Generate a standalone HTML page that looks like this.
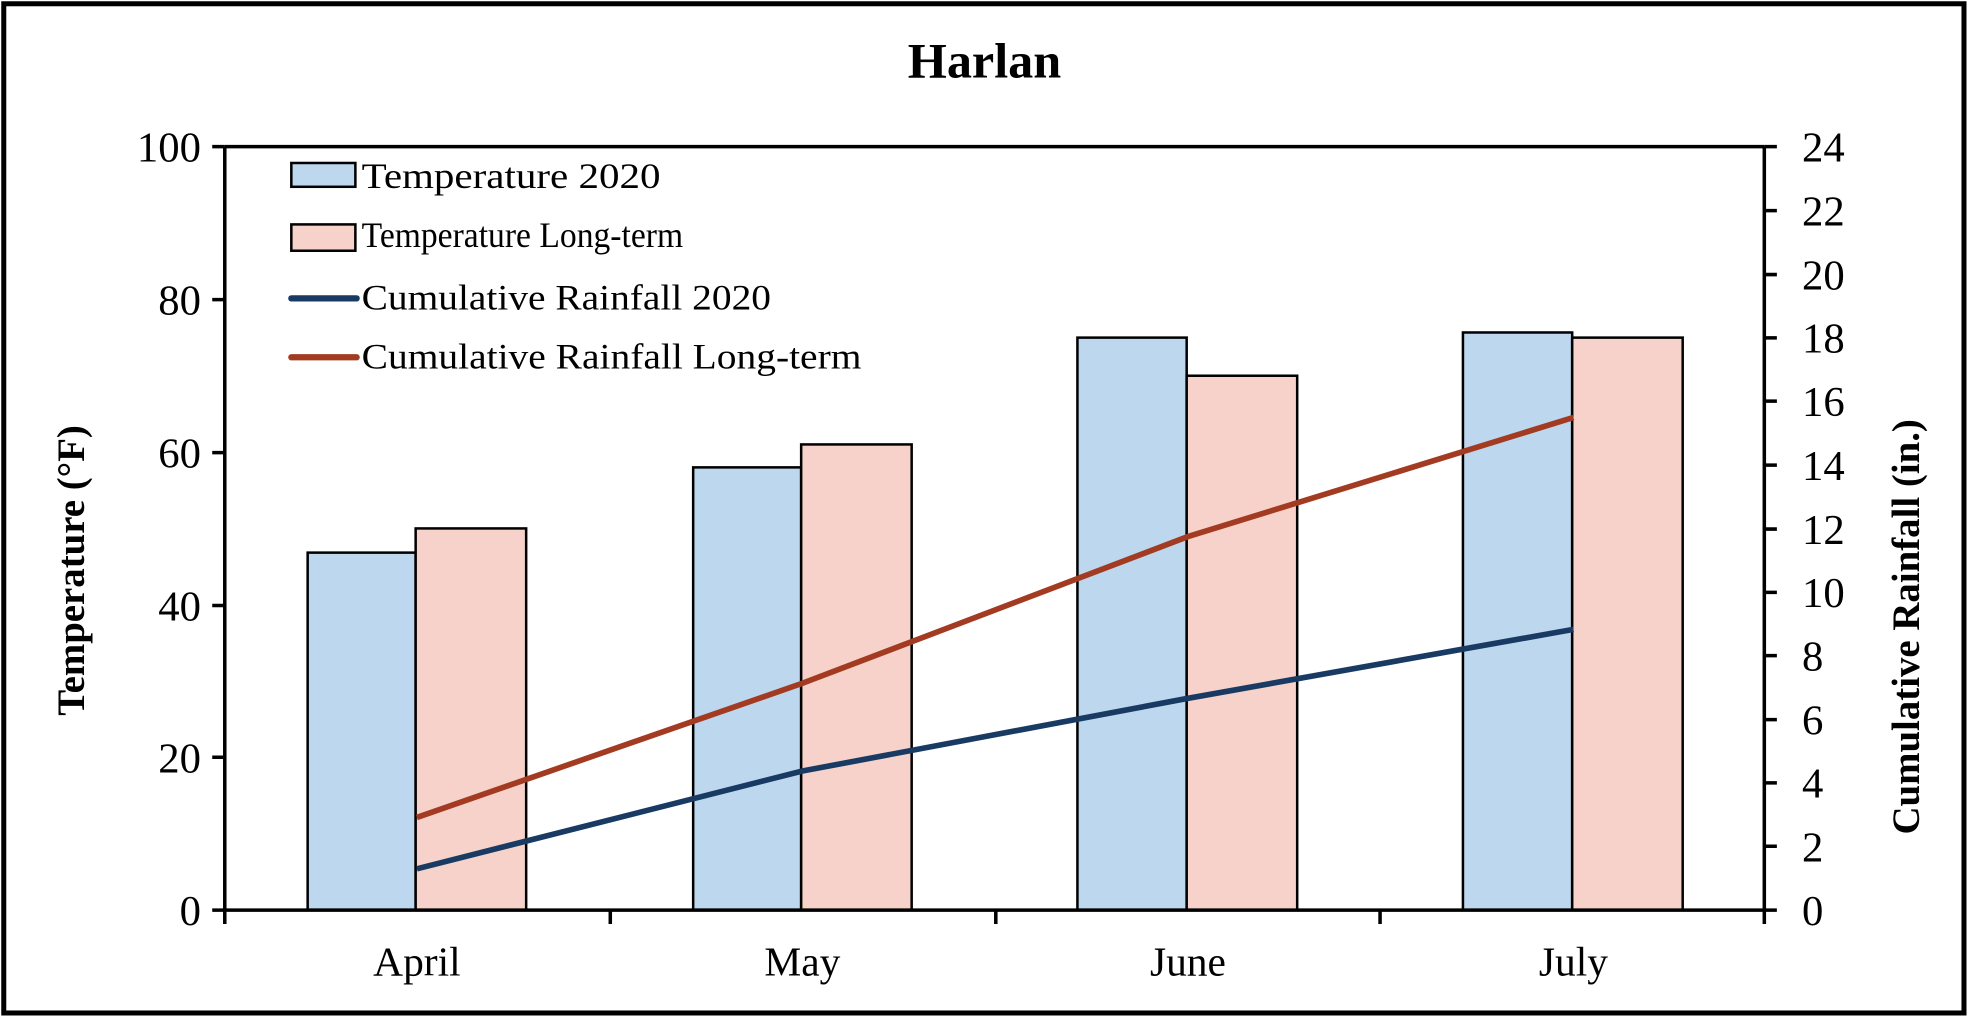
<!DOCTYPE html>
<html><head><style>html,body{margin:0;padding:0;background:#fff}svg{display:block}</style></head>
<body>
<svg width="1969" height="1018" viewBox="0 0 1568 812" preserveAspectRatio="none" xmlns="http://www.w3.org/2000/svg" font-family="Liberation Serif, serif">
<rect x="0" y="0" width="1568" height="812" fill="#fff"/>
<rect x="3" y="3" width="1561" height="805" fill="none" stroke="#000" stroke-width="4"/>
<text x="784" y="62" text-anchor="middle" font-size="40" font-weight="bold">Harlan</text>
<g stroke="#000" stroke-width="2">
<rect x="245" y="440.8" width="86" height="285.2" fill="#bdd7ee"/>
<rect x="331" y="421.5" width="88" height="304.5" fill="#f6d2ca"/>
<rect x="552" y="372.8" width="86" height="353.2" fill="#bdd7ee"/>
<rect x="638" y="354.5" width="88" height="371.5" fill="#f6d2ca"/>
<rect x="858" y="269.3" width="87" height="456.7" fill="#bdd7ee"/>
<rect x="945" y="299.7" width="88" height="426.3" fill="#f6d2ca"/>
<rect x="1165" y="265.2" width="87" height="460.8" fill="#bdd7ee"/>
<rect x="1252" y="269.3" width="88" height="456.7" fill="#f6d2ca"/>
</g>
<polyline points="332,693 639,615 946,557 1253,502" fill="none" stroke="#183a63" stroke-width="4.5"/>
<polyline points="332,652 639,545 946,428 1253,333" fill="none" stroke="#a23b21" stroke-width="4.5"/>
<g stroke="#000" stroke-width="2.8" fill="none">
<path d="M179,117 H1405 M179,117 V726 H1405 V117"/>
<path d="M169,117H179M169,239H179M169,361H179M169,483H179M169,604H179M169,726H179"/>
<path d="M1405,726h10M1405,675h10M1405,624.5h10M1405,574h10M1405,523h10M1405,472.5h10M1405,422h10M1405,371h10M1405,320h10M1405,269.5h10M1405,219h10M1405,168h10M1405,117h10"/>
<path d="M179,726v11M486,726v11M793,726v11M1099,726v11M1405,726v11"/>
</g>
<g font-size="34" text-anchor="end">
<text x="160" y="129">100</text><text x="160" y="251">80</text><text x="160" y="373">60</text><text x="160" y="495">40</text><text x="160" y="616">20</text><text x="160" y="738">0</text>
</g>
<g font-size="34" text-anchor="start">
<text x="1435" y="738">0</text><text x="1435" y="687">2</text><text x="1435" y="636">4</text><text x="1435" y="586">6</text><text x="1435" y="535">8</text><text x="1435" y="484">10</text><text x="1435" y="434">12</text><text x="1435" y="383">14</text><text x="1435" y="332">16</text><text x="1435" y="281">18</text><text x="1435" y="231">20</text><text x="1435" y="180">22</text><text x="1435" y="129">24</text>
</g>
<g font-size="33" text-anchor="middle">
<text x="332" y="778">April</text><text x="639" y="778">May</text><text x="946" y="778">June</text><text x="1253" y="778">July</text>
</g>
<text transform="translate(67,455) rotate(-90)" text-anchor="middle" font-size="31" font-weight="bold">Temperature (°F)</text>
<text transform="translate(1528,500) rotate(-90)" text-anchor="middle" font-size="31" font-weight="bold">Cumulative Rainfall (in.)</text>
<rect x="232" y="130" width="51" height="19" fill="#bdd7ee" stroke="#000" stroke-width="2"/>
<rect x="232" y="179" width="51" height="21" fill="#f6d2ca" stroke="#000" stroke-width="2"/>
<line x1="232" y1="238" x2="284" y2="238" stroke="#183a63" stroke-width="5" stroke-linecap="round"/>
<line x1="232" y1="285" x2="284" y2="285" stroke="#a23b21" stroke-width="5" stroke-linecap="round"/>
<g font-size="29">
<text x="288" y="150" textLength="238" lengthAdjust="spacingAndGlyphs">Temperature 2020</text>
<text x="288" y="197" textLength="256" lengthAdjust="spacingAndGlyphs">Temperature Long-term</text>
<text x="288" y="247" textLength="326" lengthAdjust="spacingAndGlyphs">Cumulative Rainfall 2020</text>
<text x="288" y="294" textLength="398" lengthAdjust="spacingAndGlyphs">Cumulative Rainfall Long-term</text>
</g>
</svg>
</body></html>
